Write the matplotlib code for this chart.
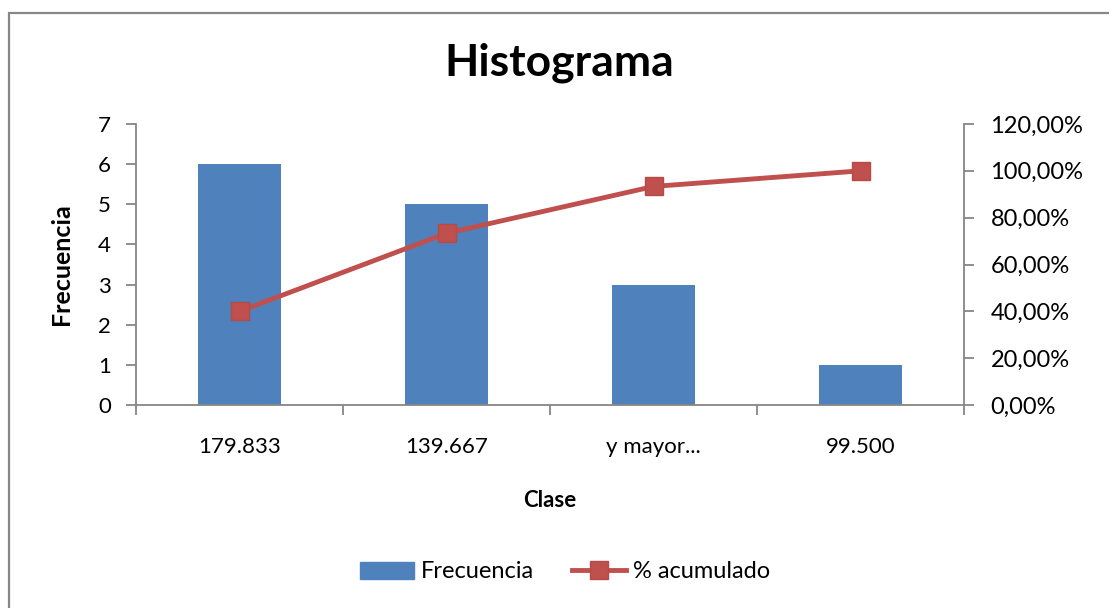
import matplotlib
matplotlib.use("Agg")
import matplotlib.pyplot as plt
from matplotlib.ticker import FuncFormatter, FixedLocator
from matplotlib.patches import Rectangle, Patch
import numpy as np

categories = ["179.833", "139.667", "y mayor...", "99.500"]
frecuencia = [6, 5, 3, 1]
acumulado = [40.00, 73.33, 93.33, 100.00]

FONT = "Lato"
plt.rcParams['font.family'] = [FONT, 'DejaVu Sans']

W, H = 1109, 608
fig = plt.figure(figsize=(W / 100, H / 100), dpi=100)

# outer chart border
fig.patches.append(Rectangle((8.5 / W, -0.1), 1.2, 1 - 12.5 / H + 0.1,
                             transform=fig.transFigure, fill=False,
                             edgecolor="#878787", linewidth=1.6))

ax = fig.add_axes([136 / W, 1 - 405 / H, (964 - 136) / W, (405 - 124) / H])
x = np.arange(len(categories))
ax.bar(x, frecuencia, width=0.4, color="#4F81BD", zorder=2)
ax.set_xlim(-0.5, len(categories) - 0.5)
ax.set_ylim(0, 7)
ax.set_yticks(range(0, 8))

gray = "#868686"
for s in ["top", "right"]:
    ax.spines[s].set_visible(False)
for s in ["left", "bottom"]:
    ax.spines[s].set_color(gray)
    ax.spines[s].set_linewidth(1.3)

ax.xaxis.set_major_locator(FixedLocator(np.arange(-0.5, len(categories), 1.0)))
ax.xaxis.set_minor_locator(FixedLocator(x))
ax.set_xticklabels([""] * (len(categories) + 1))
ax.set_xticklabels(categories, minor=True)
ax.tick_params(axis="x", which="major", length=7, width=1.3, color=gray)
ax.tick_params(axis="x", which="minor", length=0, pad=23, labelsize=16)
ax.tick_params(axis="y", length=7, width=1.3, color=gray, labelsize=16, pad=11)

ax.set_ylabel("Frecuencia", fontsize=18, fontweight="bold", labelpad=18)
ax.set_xlabel("Clase", fontsize=16, fontweight="bold", labelpad=24)

ax2 = ax.twinx()
ax2.set_ylim(0, 120)
ax2.set_yticks(range(0, 121, 20))
ax2.yaxis.set_major_formatter(FuncFormatter(lambda v, p: f"{v:.2f}".replace(".", ",") + "%"))
for s in ["top", "left", "bottom"]:
    ax2.spines[s].set_visible(False)
ax2.spines["right"].set_color(gray)
ax2.spines["right"].set_linewidth(1.3)
ax2.tick_params(axis="y", length=7, width=1.3, color=gray, labelsize=17, pad=12)
ln, = ax2.plot(x, acumulado, color="#C0504D", linewidth=3.5, marker="s",
               markersize=13, markerfacecolor="#C0504D", markeredgecolor="#B54A47",
               zorder=3, label="% acumulado")

fig.text(559 / W, 1 - 63 / H, "Histograma", ha="center", va="center",
         fontsize=32, fontweight="bold")

handles = [Patch(color="#4F81BD", label="Frecuencia"), ln]
fig.legend(handles=handles, loc="center", bbox_to_anchor=(565 / W, 1 - 572 / H),
           ncol=2, frameon=False, fontsize=17, handlelength=2.3,
           columnspacing=1.6, handletextpad=0.3)

fig.savefig("out.png", dpi=100)
